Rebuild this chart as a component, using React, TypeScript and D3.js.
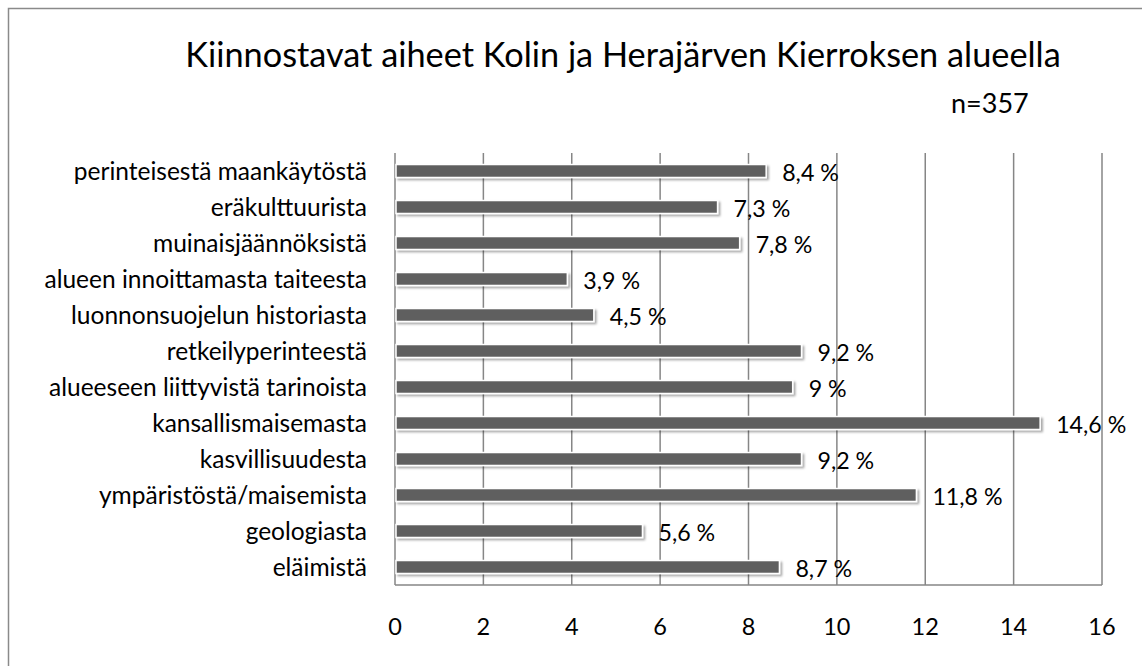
import React, { useEffect, useRef } from 'react'
import * as d3 from 'd3'

const categories = [
  'perinteisestä maankäytöstä',
  'eräkulttuurista',
  'muinaisjäännöksistä',
  'alueen innoittamasta taiteesta',
  'luonnonsuojelun historiasta',
  'retkeilyperinteestä',
  'alueeseen liittyvistä tarinoista',
  'kansallismaisemasta',
  'kasvillisuudesta',
  'ympäristöstä/maisemista',
  'geologiasta',
  'eläimistä',
]
const values = [8.4, 7.3, 7.8, 3.9, 4.5, 9.2, 9, 14.6, 9.2, 11.8, 5.6, 8.7]
const xTicks = [0, 2, 4, 6, 8, 10, 12, 14, 16]

const title = 'Kiinnostavat aiheet Kolin ja Herajärven Kierroksen alueella'
const subtitle = 'n=357'

const App = () => {
  const svgRef = useRef<SVGSVGElement>(null)

  const width = 1142
  const height = 666
  const margin = { top: 153, right: 40, bottom: 81, left: 395 }
  const font = "Lato, 'Open Sans', sans-serif"

  useEffect(() => {
    const svg = d3.select(svgRef.current)
    svg.selectAll('*').remove()

    const x = d3.scaleLinear().domain([0, 16]).range([margin.left, 1102])
    const y = d3.scaleBand().domain(categories).range([margin.top, height - margin.bottom]).paddingInner(0.64).paddingOuter(0.32)

    const defs = svg.append('defs')
    const f = defs.append('filter').attr('id', 'shadow').attr('x', '-5%').attr('y', '-50%').attr('width', '110%').attr('height', '250%')
    f.append('feDropShadow').attr('dx', 2).attr('dy', 2).attr('stdDeviation', 1.2).attr('flood-color', '#000').attr('flood-opacity', 0.35)

    // outer frame (right/bottom fall outside the picture)
    svg.append('rect')
      .attr('x', 8.5).attr('y', 8.5)
      .attr('width', width).attr('height', height)
      .attr('fill', 'white').attr('stroke', '#8a8a8a').attr('stroke-width', 1.5)

    svg.append('text')
      .text(title)
      .attr('x', 623).attr('y', 67)
      .attr('text-anchor', 'middle')
      .attr('font-family', font).attr('font-size', 34.3)
      .attr('fill', '#000')

    svg.append('text')
      .text(subtitle)
      .attr('x', 951).attr('y', 113)
      .attr('font-family', font).attr('font-size', 27)
      .attr('fill', '#000')

    // gridlines
    svg.append('g')
      .selectAll('line')
      .data(xTicks)
      .join('line')
        .attr('x1', d => x(d)).attr('x2', d => x(d))
        .attr('y1', margin.top).attr('y2', height - margin.bottom)
        .attr('stroke', '#868686').attr('stroke-width', 1.5)

    svg.append('line')
      .attr('x1', x(0)).attr('x2', x(16))
      .attr('y1', height - margin.bottom).attr('y2', height - margin.bottom)
      .attr('stroke', '#868686').attr('stroke-width', 1.5)

    // x tick labels
    svg.append('g')
      .selectAll('text')
      .data(xTicks)
      .join('text')
        .text(d => d)
        .attr('x', d => x(d)).attr('y', 635)
        .attr('text-anchor', 'middle')
        .attr('font-family', font).attr('font-size', 23.5)
        .attr('fill', '#000')

    // category labels
    svg.append('g')
      .selectAll('text')
      .data(categories)
      .join('text')
        .text(d => d)
        .attr('x', 367)
        .attr('y', d => (y(d) as number) + y.bandwidth() / 2 + 9)
        .attr('text-anchor', 'end')
        .attr('font-family', font).attr('font-size', 24.5)
        .attr('fill', '#000')

    // bars
    svg.append('g')
      .selectAll('rect')
      .data(values)
      .join('rect')
        .attr('x', x(0) + 1)
        .attr('y', (d, i) => y(categories[i]) as number)
        .attr('width', d => x(d) - x(0) - 1)
        .attr('height', y.bandwidth())
        .attr('fill', '#5f5f5f')
        .attr('stroke', 'white').attr('stroke-width', 1.5)
        .attr('filter', 'url(#shadow)')

    // value labels
    svg.append('g')
      .selectAll('text')
      .data(values)
      .join('text')
        .text(d => `${String(d).replace('.', ',')} %`)
        .attr('x', d => x(d) + 16)
        .attr('y', (d, i) => (y(categories[i]) as number) + y.bandwidth() / 2 + 10)
        .attr('font-family', font).attr('font-size', 23.2)
        .attr('fill', '#000')
  }, [])

  return (
    <svg ref={svgRef} width={width} height={height} style={{ position: 'absolute', left: 0, top: 0, background: 'white' }}></svg>
  )
}

export default App
